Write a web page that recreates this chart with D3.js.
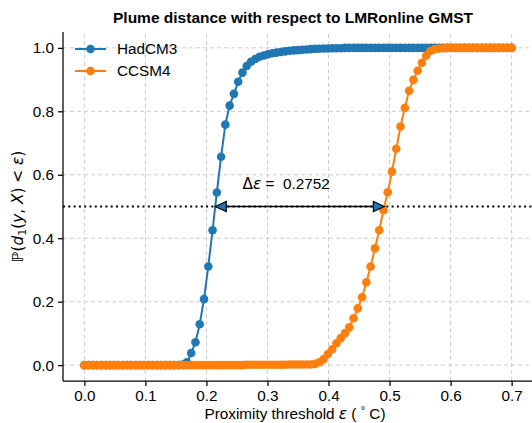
<!DOCTYPE html>
<html>
<head>
<meta charset="utf-8">
<script src="https://cdn.jsdelivr.net/npm/d3@7"></script>
<style>
  body { margin: 0; background: #fff; }
  svg { display: block; font-family: "Liberation Sans", Arial, sans-serif; }
  text { white-space: pre; }
</style>
</head>
<body>
<svg id="imagen" width="532" height="423"></svg>
<script>
// threshold grid: 101 values, 0 to 0.7
var epsilon = [
  0.000, 0.007, 0.014, 0.021, 0.028, 0.035, 0.042, 0.049, 0.056, 0.063,
  0.070, 0.077, 0.084, 0.091, 0.098, 0.105, 0.112, 0.119, 0.126, 0.133,
  0.140, 0.147, 0.154, 0.161, 0.168, 0.175, 0.182, 0.189, 0.196, 0.203,
  0.210, 0.217, 0.224, 0.231, 0.238, 0.245, 0.252, 0.259, 0.266, 0.273,
  0.280, 0.287, 0.294, 0.301, 0.308, 0.315, 0.322, 0.329, 0.336, 0.343,
  0.350, 0.357, 0.364, 0.371, 0.378, 0.385, 0.392, 0.399, 0.406, 0.413,
  0.420, 0.427, 0.434, 0.441, 0.448, 0.455, 0.462, 0.469, 0.476, 0.483,
  0.490, 0.497, 0.504, 0.511, 0.518, 0.525, 0.532, 0.539, 0.546, 0.553,
  0.560, 0.567, 0.574, 0.581, 0.588, 0.595, 0.602, 0.609, 0.616, 0.623,
  0.630, 0.637, 0.644, 0.651, 0.658, 0.665, 0.672, 0.679, 0.686, 0.693,
  0.700
];

var hadcm3 = [
  0, 0, 0, 0, 0, 0, 0, 0, 0, 0,
  0, 0, 0, 0, 0, 0, 0, 0, 0, 0,
  0, 0, 0, 0.002, 0.009, 0.038, 0.072, 0.129, 0.208, 0.311,
  0.425, 0.544, 0.657, 0.758, 0.818, 0.855, 0.893, 0.922, 0.943, 0.956,
  0.965, 0.972, 0.976, 0.980, 0.983, 0.985, 0.987, 0.989, 0.991, 0.992,
  0.993, 0.994, 0.995, 0.996, 0.997, 0.997, 0.998, 0.998, 0.999, 0.999,
  0.999, 1, 1, 1, 1, 1, 1, 1, 1, 1,
  1, 1, 1, 1, 1, 1, 1, 1, 1, 1,
  1, 1, 1, 1, 1, 1, 1, 1, 1, 1,
  1, 1, 1, 1, 1, 1, 1, 1, 1, 1,
  1
];

var ccsm4 = [
  0, 0, 0, 0, 0, 0, 0, 0, 0, 0,
  0, 0, 0, 0, 0, 0, 0, 0, 0, 0,
  0, 0, 0, 0, 0, 0, 0, 0, 0, 0,
  0, 0, 0, 0, 0, 0, 0, 0, 0.001, 0.001,
  0.001, 0.001, 0.001, 0.001, 0.001, 0.001, 0.001, 0.001, 0.002, 0.002,
  0.002, 0.002, 0.002, 0.002, 0.004, 0.009, 0.019, 0.035, 0.050, 0.069,
  0.085, 0.101, 0.119, 0.148, 0.179, 0.214, 0.261, 0.311, 0.368, 0.425,
  0.488, 0.545, 0.610, 0.682, 0.752, 0.811, 0.865, 0.899, 0.928, 0.953,
  0.975, 0.990, 0.996, 0.998, 0.999, 1, 1, 1, 1, 1,
  1, 1, 1, 1, 1, 1, 1, 1, 1, 1,
  1
];

var seriesNames = ["HadCM3", "CCSM4"];
var seriesColors = ["#1f77b4", "#ff7f0e"];
var xTicks = [0, 0.1, 0.2, 0.3, 0.4, 0.5, 0.6, 0.7];
var yTicks = [0, 0.2, 0.4, 0.6, 0.8, 1.0];
var level = 0.5;
var deltaLabel = "0.2752";

var width = 532;
var height = 423;
var margin = { top: 32, right: -1, bottom: 42, left: 63 };
var fs = 15.3;

var svg = d3.select("#imagen");

var x = d3.scaleLinear()
  .domain([-0.035, 0.735])
  .range([margin.left, width - margin.right]);

var y = d3.scaleLinear()
  .domain([-0.05, 1.05])
  .range([height - margin.bottom, margin.top]);

// grid
var grid = svg.append("g")
  .attr("stroke", "#cccccc")
  .attr("stroke-width", 1)
  .attr("stroke-dasharray", "4,3");
grid.selectAll(".gx").data(xTicks).join("line")
  .attr("x1", d => x(d)).attr("x2", d => x(d))
  .attr("y1", y.range()[0]).attr("y2", y.range()[1]);
grid.selectAll(".gy").data(yTicks).join("line")
  .attr("y1", d => y(d)).attr("y2", d => y(d))
  .attr("x1", x.range()[0]).attr("x2", x.range()[1]);

// level line
svg.append("line")
  .attr("x1", x.range()[0]).attr("x2", x.range()[1])
  .attr("y1", y(level)).attr("y2", y(level))
  .attr("stroke", "#000")
  .attr("stroke-width", 2)
  .attr("stroke-dasharray", "2,3.3");

// curves
var allSeries = [hadcm3, ccsm4];
var line = d3.line()
  .x((d, i) => x(epsilon[i]))
  .y(d => y(d));

allSeries.forEach(function (vals, k) {
  var g = svg.append("g");
  g.append("path")
    .datum(vals)
    .attr("fill", "none")
    .attr("stroke", seriesColors[k])
    .attr("stroke-width", 2)
    .attr("d", line);
  g.selectAll("circle")
    .data(vals)
    .join("circle")
    .attr("cx", (d, i) => x(epsilon[i]))
    .attr("cy", d => y(d))
    .attr("r", 4.3)
    .attr("fill", seriesColors[k]);
});

// crossing of the level
function crossing(vals) {
  for (var i = 1; i < vals.length; i++) {
    if (vals[i - 1] < level && vals[i] >= level) {
      var t = (level - vals[i - 1]) / (vals[i] - vals[i - 1]);
      return epsilon[i - 1] + t * (epsilon[i] - epsilon[i - 1]);
    }
  }
  return null;
}
var e1 = crossing(hadcm3);
var e2 = crossing(ccsm4);

// double arrow
var ay = y(level);
var ax1 = x(e1);
var ax2 = x(e2);
var headL = 11;
var headW = 5;
svg.append("line")
  .attr("x1", ax1 + headL).attr("x2", ax2 - headL)
  .attr("y1", ay).attr("y2", ay)
  .attr("stroke", "#000").attr("stroke-width", 1.3);
svg.append("path")
  .attr("d", `M${ax1},${ay}L${ax1 + headL},${ay - headW}L${ax1 + headL},${ay + headW}Z`)
  .attr("fill", "#1f77b4").attr("stroke", "#000").attr("stroke-width", 1.2);
svg.append("path")
  .attr("d", `M${ax2},${ay}L${ax2 - headL},${ay - headW}L${ax2 - headL},${ay + headW}Z`)
  .attr("fill", "#1f77b4").attr("stroke", "#000").attr("stroke-width", 1.2);

var ann = svg.append("text")
  .attr("x", x(0.259))
  .attr("y", y(0.555))
  .attr("font-size", fs)
  .attr("fill", "#000");
ann.append("tspan").attr("font-family", "DejaVu Sans").text("Δ");
ann.append("tspan").attr("font-family", "DejaVu Sans").attr("font-style", "italic").text("ε");
ann.append("tspan").text(" =  " + deltaLabel);

// axes
var xAxis = g => g
  .attr("transform", `translate(0,${y.range()[0]})`)
  .call(d3.axisBottom(x).tickValues(xTicks).tickFormat(d3.format(".1f")).tickSizeOuter(0).tickSize(5).tickPadding(4))
  .call(g => g.select(".domain").attr("d", `M${x.range()[0]},0H${x.range()[1]}`));

var yAxis = g => g
  .attr("transform", `translate(${x.range()[0]},0)`)
  .call(d3.axisLeft(y).tickValues(yTicks).tickFormat(d3.format(".1f")).tickSizeOuter(0).tickSize(5).tickPadding(4))
  .call(g => g.select(".domain").attr("d", `M0,${y.range()[0]}V${y.range()[1]}`));

[xAxis, yAxis].forEach(function (ax) {
  var g = svg.append("g").call(ax);
  g.attr("font-family", null).attr("font-size", fs);
  g.selectAll("text").attr("fill", "#000");
  g.selectAll("line, path").attr("stroke", "#000").attr("stroke-width", 1.25);
});

// labels
svg.append("text")
  .attr("x", 293)
  .attr("y", 23)
  .attr("text-anchor", "middle")
  .attr("font-size", 15.5)
  .attr("font-weight", "bold")
  .text("Plume distance with respect to LMRonline GMST");

var xl = svg.append("text")
  .attr("x", 295)
  .attr("y", 419)
  .attr("text-anchor", "middle")
  .attr("font-size", fs);
xl.append("tspan").text("Proximity threshold ");
xl.append("tspan").attr("font-family", "DejaVu Sans").attr("font-style", "italic").text("ε");
xl.append("tspan").text(" ( ");
xl.append("tspan").attr("font-size", 11).attr("dy", -5).text("°");
xl.append("tspan").attr("dy", 5).text(" C)");

var yl = svg.append("text")
  .attr("transform", `translate(23,${y(0.5)}) rotate(-90)`)
  .attr("text-anchor", "middle")
  .attr("font-size", fs)
  .attr("font-family", "DejaVu Sans");
yl.append("tspan").text("ℙ(");
yl.append("tspan").attr("font-style", "italic").text("d");
yl.append("tspan").attr("font-size", 11).attr("dy", 3).text("1");
yl.append("tspan").attr("dy", -3).text("(");
yl.append("tspan").attr("font-style", "italic").text("y");
yl.append("tspan").text(", ");
yl.append("tspan").attr("font-style", "italic").text("X");
yl.append("tspan").text(") < ");
yl.append("tspan").attr("font-style", "italic").text("ε");
yl.append("tspan").text(")");

// legend
var legend = svg.append("g")
  .attr("font-size", fs)
  .selectAll("g")
  .data(seriesNames)
  .join("g")
  .attr("transform", (d, i) => `translate(75,${49 + i * 22})`);
legend.append("line")
  .attr("x1", 0).attr("x2", 31)
  .attr("stroke", (d, i) => seriesColors[i])
  .attr("stroke-width", 2);
legend.append("circle")
  .attr("cx", 15.5).attr("r", 4.3)
  .attr("fill", (d, i) => seriesColors[i]);
legend.append("text")
  .attr("x", 42)
  .attr("dy", "0.35em")
  .text(d => d);
</script>
</body>
</html>
